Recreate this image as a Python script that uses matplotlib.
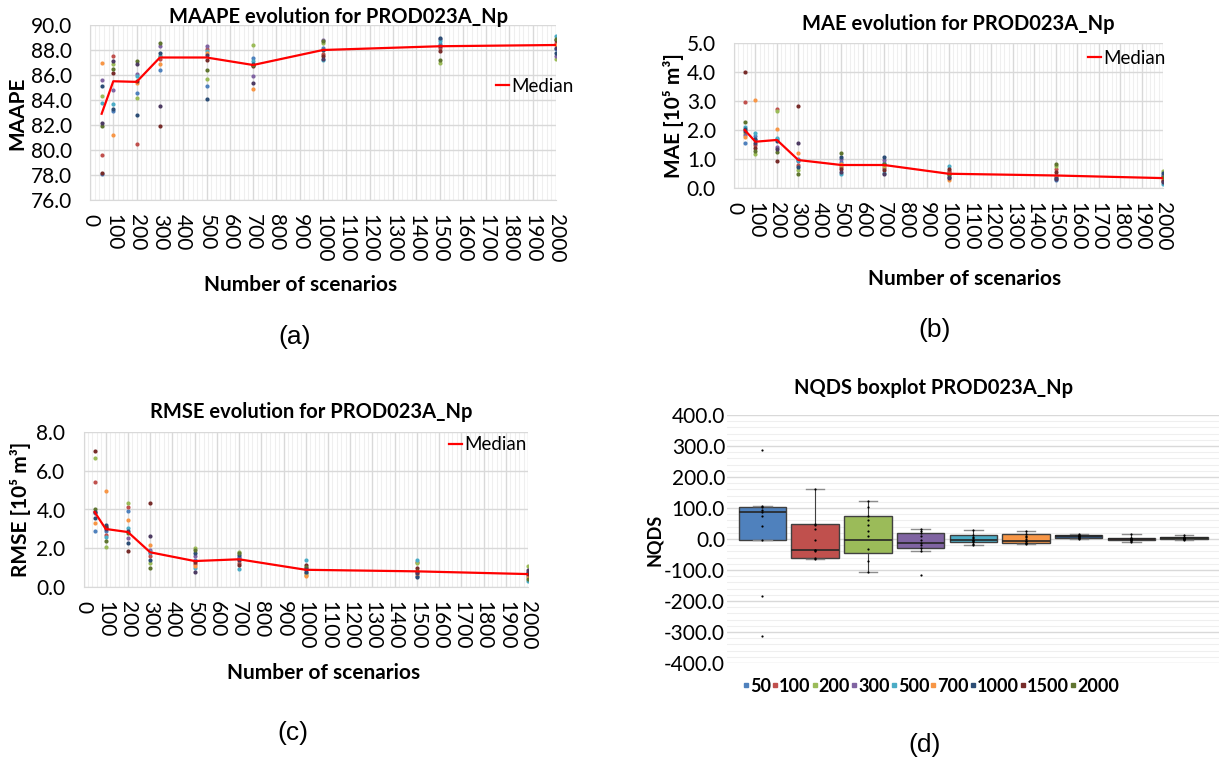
import matplotlib
matplotlib.use('Agg')
import matplotlib.pyplot as plt
from matplotlib.ticker import MultipleLocator, FuncFormatter
from matplotlib.lines import Line2D

plt.rcParams['font.family'] = ['Lato', 'DejaVu Sans']

# ---------------- data ----------------
scenarios = [50, 100, 200, 300, 500, 700, 1000, 1500, 2000]
xticks = list(range(0, 2001, 100))

# each inner list: values of the 10 runs for one number of scenarios
maape_points = [
    [78.1, 79.6, 84.3, 85.6, 83.8, 87.0, 85.1, 78.2, 81.9, 82.2],
    [83.1, 87.5, 86.9, 84.8, 83.7, 81.2, 83.3, 86.2, 86.5, 87.1],
    [84.6, 80.5, 84.2, 86.1, 85.9, 85.4, 82.8, 85.5, 87.1, 86.9],
    [86.4, 87.3, 87.5, 88.3, 87.5, 86.9, 87.8, 81.9, 88.6, 83.5],
    [85.1, 88.1, 85.7, 88.3, 87.9, 87.8, 84.1, 87.2, 86.4, 87.6],
    [87.4, 86.8, 88.4, 85.9, 87.1, 84.9, 86.9, 86.7, 86.8, 85.4],
    [88.2, 87.7, 88.6, 88.8, 87.2, 88.0, 88.0, 87.5, 88.7, 87.3],
    [88.5, 88.2, 87.0, 88.9, 88.7, 88.3, 89.0, 87.9, 87.2, 88.3],
    [88.05, 88.6, 87.3, 87.5, 89.1, 88.4, 87.8, 88.8, 88.9, 88.2],
]
maape_median = [82.9, 85.5, 85.45, 87.4, 87.4, 86.8, 88.0, 88.3, 88.4]

mae_points = [
    [1.54, 2.97, 1.91, 1.83, 2.09, 1.75, 2.02, 3.98, 2.29, 1.98],
    [1.79, 1.49, 1.18, 1.66, 1.89, 3.04, 1.71, 1.37, 1.29, 1.57],
    [1.70, 2.72, 2.65, 1.43, 1.74, 2.05, 1.62, 0.94, 1.26, 1.34],
    [0.95, 0.80, 0.63, 1.00, 0.97, 1.20, 0.72, 2.82, 0.49, 1.57],
    [0.91, 0.74, 0.80, 1.00, 0.49, 0.82, 1.09, 0.65, 1.22, 0.57],
    [0.88, 0.69, 0.78, 0.97, 0.54, 0.80, 1.06, 0.63, 0.82, 0.48],
    [0.55, 0.60, 0.50, 0.46, 0.78, 0.29, 0.40, 0.66, 0.50, 0.35],
    [0.28, 0.65, 0.75, 0.42, 0.46, 0.38, 0.35, 0.55, 0.82, 0.32],
    [0.42, 0.30, 0.60, 0.47, 0.15, 0.34, 0.52, 0.26, 0.38, 0.22],
]
mae_median = [2.0, 1.6, 1.66, 0.97, 0.8, 0.8, 0.5, 0.44, 0.35]

rmse_points = [
    [2.91, 5.43, 6.66, 3.80, 3.88, 3.32, 3.55, 7.02, 4.00, 3.85],
    [2.91, 2.69, 2.09, 3.10, 2.60, 4.97, 3.20, 3.12, 2.38, 3.00],
    [3.92, 4.14, 4.32, 2.55, 3.03, 3.46, 2.30, 1.85, 2.80, 2.88],
    [1.75, 1.61, 1.23, 1.92, 1.82, 2.17, 1.40, 4.35, 0.98, 2.65],
    [1.40, 1.20, 2.04, 1.62, 0.98, 1.10, 1.78, 1.30, 1.92, 0.80],
    [1.49, 1.27, 1.83, 1.58, 0.92, 1.42, 1.66, 1.15, 1.75, 1.38],
    [0.89, 0.72, 0.63, 0.98, 1.40, 0.57, 0.80, 1.15, 1.06, 0.92],
    [0.60, 1.32, 1.23, 0.80, 1.42, 0.68, 0.55, 0.98, 0.85, 0.75],
    [0.60, 0.70, 1.11, 0.75, 0.33, 0.55, 0.80, 0.66, 0.45, 0.89],
]
rmse_median = [3.87, 3.0, 2.84, 1.8, 1.35, 1.44, 0.9, 0.82, 0.68]

nqds_labels = ['50', '100', '200', '300', '500', '700', '1000', '1500', '2000']
nqds_q1 = [-3, -61, -45, -29, -10, -13, 4, -3, -1]
nqds_median = [87, -37, -3, -12, -2, -8, 9, 0, 2]
nqds_q3 = [103, 49, 73, 19, 12, 16, 13, 4, 6]
nqds_whislo = [-3, -63, -106, -40, -20, -16, 0, -10, -2]
nqds_whishi = [105, 161, 123, 33, 30, 25, 17, 16, 12]
nqds_points = [
    [288, 105, 103, 95, 86, 75, 41, -3, -185, -312],
    [161, 49, 45, 32, -2, -35, -37, -40, -61, -63],
    [123, 103, 73, 62, 46, 27, 9, -32, -72, -106],
    [33, 25, 19, 11, -2, -13, -20, -29, -40, -117],
    [30, 12, 8, 3, -2, -2, -5, -10, -15, -20],
    [25, 16, 10, 5, 0, -8, -8, -12, -13, -16],
    [17, 13, 11, 10, 9, 9, 7, 4, 2, 0],
    [16, 4, 2, 0, -1, -1, -2, -3, -6, -10],
    [12, 6, 4, 3, 2, 2, 1, 0, -1, -2],
]

# ---------------- style ----------------
palette = ['#4F81BD', '#C0504D', '#9BBB59', '#8064A2', '#4BACC6',
           '#F79646', '#2C4D75', '#772C2A', '#5F7530', '#4D3B62']
GRID_MAJ = '#D9D9D9'
GRID_MIN = '#EFEFEF'
TICK_FS = 15
LAB_FS = 15
TITLE_FS = 14.5
LEG_FS = 13.5

W, H = 1219, 766
fig = plt.figure(figsize=(W / 100, H / 100), dpi=100)


def fx(px):
    return px / W


def fy(py):
    return 1 - py / H


def rect(l, t, r, b):
    return [l / W, 1 - b / H, (r - l) / W, (b - t) / H]


def evo_panel(r, points, median, ylim, ystep, title, title_xy, ylabel,
              ylabel_xy, xlabel_xy, legend_xy, letter, letter_xy):
    ax = fig.add_axes(r)
    nruns = len(points[0])
    for ri in range(nruns):
        ax.scatter(scenarios, [g[ri] for g in points], s=9,
                   color=palette[ri % len(palette)], linewidths=0, zorder=3)
    ax.plot(scenarios, median, color='#FF0000', lw=1.6, zorder=4)
    ax.set_xlim(0, 2000)
    ax.set_ylim(*ylim)
    ax.set_xticks(xticks)
    ax.set_xticklabels([str(t) for t in xticks], rotation=270,
                       ha='center', va='top', fontsize=TICK_FS)
    ax.xaxis.set_minor_locator(MultipleLocator(20))
    ax.yaxis.set_major_locator(MultipleLocator(ystep))
    ax.yaxis.set_major_formatter(FuncFormatter(lambda v, p: f'{v:.1f}'))
    ax.tick_params(axis='both', which='both', length=0)
    ax.tick_params(axis='x', pad=10)
    ax.tick_params(axis='y', pad=13, labelsize=TICK_FS)
    ax.grid(True, which='major', color=GRID_MAJ, lw=1.0, zorder=0)
    ax.grid(True, which='minor', axis='x', color=GRID_MIN, lw=0.8, zorder=0)
    ax.set_axisbelow(True)
    for s in ax.spines.values():
        s.set_visible(False)
    ax.spines['bottom'].set_visible(True)
    ax.spines['bottom'].set_color(GRID_MAJ)
    ax.spines['left'].set_visible(True)
    ax.spines['left'].set_color(GRID_MAJ)
    fig.text(fx(title_xy[0]), fy(title_xy[1]), title, ha='center',
             va='center', fontsize=TITLE_FS, fontweight='bold')
    fig.text(fx(ylabel_xy[0]), fy(ylabel_xy[1]), ylabel, ha='center',
             va='center', rotation=90, fontsize=LAB_FS, fontweight='bold')
    fig.text(fx(xlabel_xy[0]), fy(xlabel_xy[1]), 'Number of scenarios',
             ha='center', va='center', fontsize=LAB_FS, fontweight='bold')
    fig.text(fx(letter_xy[0]), fy(letter_xy[1]), letter, ha='center',
             va='center', fontsize=19, family=['Liberation Sans', 'DejaVu Sans'])
    h = [Line2D([], [], color='#FF0000', lw=1.6)]
    ax.legend(h, ['Median'], loc='center left',
              bbox_to_anchor=(fx(legend_xy[0]), fy(legend_xy[1])),
              bbox_transform=fig.transFigure, frameon=False,
              handlelength=0.7, handletextpad=0.1, borderpad=0,
              borderaxespad=0, fontsize=LEG_FS)
    return ax


evo_panel(rect(90, 25, 556, 200), maape_points, maape_median, (76, 90), 2,
          'MAAPE evolution for PROD023A_Np', (339, 17), 'MAAPE', (17, 113),
          (301, 285), (496, 86), '(a)', (295, 337))

evo_panel(rect(734, 42.7, 1163, 188.3), mae_points, mae_median, (0, 5), 1,
          'MAE evolution for PROD023A_Np', (958, 24), 'MAE [10⁵ m³]',
          (674, 116), (965, 279), (1088, 58), '(b)', (935, 330))

evo_panel(rect(83.5, 431.7, 528, 587.3), rmse_points, rmse_median, (0, 8), 2,
          'RMSE evolution for PROD023A_Np', (311, 412), 'RMSE [10⁵ m³]',
          (21, 509), (324, 673), (449, 445), '(c)', (293, 733))

# ---------------- (d) boxplot ----------------
axd = fig.add_axes(rect(726.5, 415, 1219, 663))
positions = list(range(1, len(nqds_labels) + 1))
stats = []
for i in range(len(nqds_labels)):
    stats.append(dict(med=nqds_median[i], q1=nqds_q1[i], q3=nqds_q3[i],
                      whislo=nqds_whislo[i], whishi=nqds_whishi[i],
                      fliers=[], label=nqds_labels[i]))
bp = axd.bxp(stats, positions=positions, widths=0.9, patch_artist=True,
             showfliers=False, capwidths=0.35,
             boxprops=dict(edgecolor='#404040', lw=1.0),
             medianprops=dict(color='#262626', lw=1.2),
             whiskerprops=dict(color='#404040', lw=0.8),
             capprops=dict(color='#8C8C8C', lw=1.0))
for patch, c in zip(bp['boxes'], palette):
    patch.set_facecolor(c)
    patch.set_zorder(2)
for i, pts in enumerate(nqds_points):
    axd.scatter([positions[i]] * len(pts), pts, s=2.5, color='black',
                linewidths=0, zorder=5)
axd.set_xlim(0.32, 9.66)
axd.set_ylim(-400, 400)
axd.set_xticks([])
axd.yaxis.set_major_locator(MultipleLocator(100))
axd.yaxis.set_minor_locator(MultipleLocator(20))
axd.yaxis.set_major_formatter(FuncFormatter(lambda v, p: f'{v:.1f}'))
axd.tick_params(axis='y', which='both', length=0, pad=1, labelsize=TICK_FS)
axd.grid(True, which='major', axis='y', color=GRID_MAJ, lw=1.0)
axd.grid(True, which='minor', axis='y', color=GRID_MIN, lw=0.8)
axd.set_axisbelow(True)
for s in axd.spines.values():
    s.set_visible(False)
fig.text(fx(934), fy(388), 'NQDS boxplot PROD023A_Np', ha='center',
         va='center', fontsize=TITLE_FS, fontweight='bold')
fig.text(fx(655), fy(540), 'NQDS', ha='center', va='center', rotation=90,
         fontsize=13, fontweight='bold')
fig.text(fx(925), fy(745), '(d)', ha='center', va='center', fontsize=19,
         family=['Liberation Sans', 'DejaVu Sans'])
hd = [Line2D([], [], marker='s', linestyle='', color=c, markersize=2.2)
      for c in palette[:len(nqds_labels)]]
axd.legend(hd, nqds_labels, loc='center', bbox_to_anchor=(fx(931), fy(686)),
           bbox_transform=fig.transFigure, ncol=len(nqds_labels),
           frameon=False, handlelength=0.35, handletextpad=0.05,
           columnspacing=0.05, borderpad=0, borderaxespad=0,
           prop=dict(size=13, weight='bold'))

fig.savefig('out.png', dpi=100)
